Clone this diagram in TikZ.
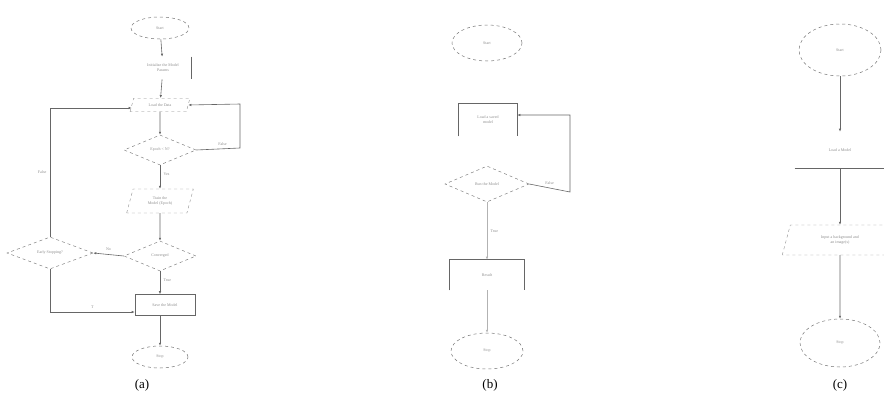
\documentclass[tikz,border=0pt]{standalone}
\usepackage{fontspec}
\setmainfont{Liberation Serif}
\usetikzlibrary{shapes.geometric,arrows.meta}
\begin{document}
\begin{tikzpicture}[x=1pt,y=-1pt,
  every node/.style={font=\fontsize{4}{5}\selectfont, text=black!45, align=center},
  term/.style={ellipse, draw=black!55, dashed, line width=0.5pt, minimum width=#1, inner sep=0pt},
  term/.default=60pt,
  dec/.style={diamond, aspect=2.4, draw=black!50, dashed, line width=0.5pt, inner sep=1pt},
  proc/.style={rectangle, draw=black!60, line width=0.6pt, inner sep=2pt},
  io/.style={trapezium, trapezium left angle=75, trapezium right angle=105, draw=black!45, dashed, line width=0.4pt, inner sep=2pt},
  conn/.style={draw=black!60, line width=0.6pt, -{Latex[length=3pt,width=2.5pt]}},
  plain/.style={draw=black!60, line width=0.6pt},
  lbl/.style={font=\fontsize{4}{5}\selectfont, text=black!45},
  subcap/.style={font=\fontsize{13}{14}\selectfont, text=black}]
\useasboundingbox (0,0) rectangle (884,399);
% ---------------- (a)
\node[term=58pt, minimum height=22pt] (aS) at (160,28) {Start};
\node[proc, draw=none, minimum width=56pt, minimum height=22pt] (aI) at (163,68) {Initialize the Model\\Params};
\draw[plain] (aI.north east) -- (aI.south east);
\node[io, minimum width=60pt, minimum height=12pt] (aL) at (160,105) {Load the Data};
\node[dec, minimum width=72pt, minimum height=30pt] (aD1) at (160,150) {Epoch < N?};
\node[io, minimum width=58pt, minimum height=24pt] (aT) at (160,201) {Train the\\Model (Epoch)};
\node[dec, minimum width=72pt, minimum height=30pt] (aD2) at (160,256) {Converged};
\node[proc, minimum width=60pt, minimum height=21pt] (aR) at (165,305) {Save the Model};
\node[term=56pt, minimum height=22pt] (aE) at (160,357) {Stop};
\node[dec, minimum width=86pt, minimum height=32pt] (aD3) at (50,253) {Early Stopping?};
\draw[conn] (aS) -- (aI);
\draw[conn] (aI) -- (aL);
\draw[conn] (aL) -- (aD1);
\draw[conn] (aD1) -- node[lbl, right, pos=0.4]{Yes} (aT);
\draw[conn] (aT) -- (aD2);
\draw[conn] (aD2) -- node[lbl, right, pos=0.4]{True} (aR.north -| aD2);
\draw[conn] (aR.south -| aE) -- (aE);
\coordinate (aC1) at (240,104);
\coordinate (aC2) at (240,148);
\draw[conn] (aD1.east) -- node[lbl, above, pos=0.6]{False} (aC2) -- (aC1) -- (aL.east);
\draw[conn] (aD2.west) -- node[lbl, above]{No} (aD3.east);
\coordinate (aC3) at (50,108);
\draw[conn] (aD3.north) -- node[lbl, left]{False} (aC3) -- (aL.west |- aC3);
\coordinate (aC4) at (50,312);
\draw[conn] (aD3.south) -- (aC4) -- node[lbl, above]{T} (aR.west |- aC4);
\node[subcap] (capA) at (142,385) {(a)};
% ---------------- (b)
\node[term=70pt, minimum height=36pt] (bS) at (487,43) {Start};
\node[proc, draw=none, minimum width=58pt, minimum height=32pt] (bL) at (488,120) {Load a saved\\model};
\draw[plain] (bL.south west) -- (bL.north west) -- (bL.north east) -- (bL.south east);
\node[dec, minimum width=84pt, minimum height=36pt] (bD) at (487,184) {Run the Model};
\node[proc, draw=none, minimum width=74pt, minimum height=30pt] (bR) at (487,275) {Result};
\draw[plain] (bR.south west) -- (bR.north west) -- (bR.north east) -- (bR.south east);
\node[term=72pt, minimum height=36pt] (bE) at (487,351) {Stop};
\coordinate (bC1) at (570,192);
\coordinate (bC2) at (570,115);
\draw[conn] (bD.east) -- node[lbl, above, pos=0.5]{False} (bC1) -- (bC2) -- (bL.east |- bC2);
\draw[conn, draw=black!30] (bD) -- node[lbl, right]{True} (bR);
\draw[conn, draw=black!30] (bR) -- (bE);
\node[subcap] (capB) at (490,385) {(b)};
% ---------------- (c)
\node[term=82pt, minimum height=52pt] (cS) at (840,50) {Start};
\node[proc, draw=none, minimum width=90pt, minimum height=36pt] (cL) at (840,150) {Load a Model};
\draw[plain] (cL.south west) -- (cL.south east);
\node[io, minimum width=92pt, minimum height=30pt] (cI) at (840,240) {Input a background and\\an image(s)};
\node[term=80pt, minimum height=48pt] (cE) at (840,343) {Stop};
\draw[conn] (cS) -- (cL);
\draw[conn] (cL) -- (cI);
\draw[conn] (cI) -- (cE);
\node[subcap] (capC) at (840,385) {(c)};
\end{tikzpicture}
\end{document}
